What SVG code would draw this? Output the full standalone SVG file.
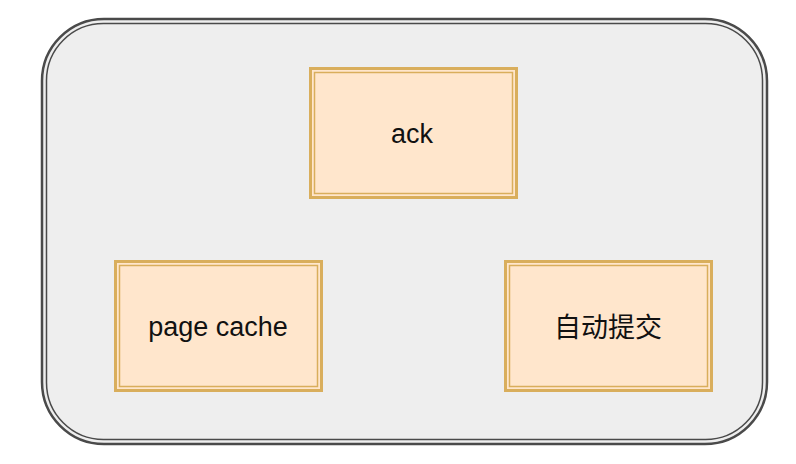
<svg xmlns="http://www.w3.org/2000/svg" width="796" height="464" viewBox="0 0 796 464">
<style>
.cont-o{fill:#eeeeee;stroke:#4a4a4a;stroke-width:2.5}
.cont-i{fill:none;stroke:#4a4a4a;stroke-width:1.5}
.box-o{fill:#ffe6cc;stroke:#d9ae5c;stroke-width:3}
.box-i{fill:none;stroke:#d9ae5c;stroke-width:1.5}
.lbl{font-family:"Liberation Sans","Noto Sans CJK SC",sans-serif;font-size:27px;fill:#111111;text-anchor:middle}
</style>
<rect width="796" height="464" fill="#ffffff"/>
<g id="container">
<rect class="cont-o" x="42" y="19" width="725" height="425" rx="62" ry="62"/>
<rect class="cont-i" x="46.5" y="23.5" width="716" height="416" rx="57" ry="57"/>
</g>
<g id="connectors"></g>
<g id="node-ack">
<rect class="box-o" x="310.5" y="68.5" width="206" height="129"/>
<rect class="box-i" x="314.5" y="72.5" width="198" height="121"/>
<text class="lbl" x="412" y="142.5">ack</text>
</g>
<g id="node-pagecache">
<rect class="box-o" x="115.5" y="261.5" width="206" height="129"/>
<rect class="box-i" x="119.5" y="265.5" width="198" height="121"/>
<text class="lbl" x="218" y="335.5">page cache</text>
</g>
<g id="node-autocommit">
<rect class="box-o" x="505.5" y="261.5" width="206" height="129"/>
<rect class="box-i" x="509.5" y="265.5" width="198" height="121"/>
<text class="lbl" x="608" y="336.5">自动提交</text>
</g>
</svg>
